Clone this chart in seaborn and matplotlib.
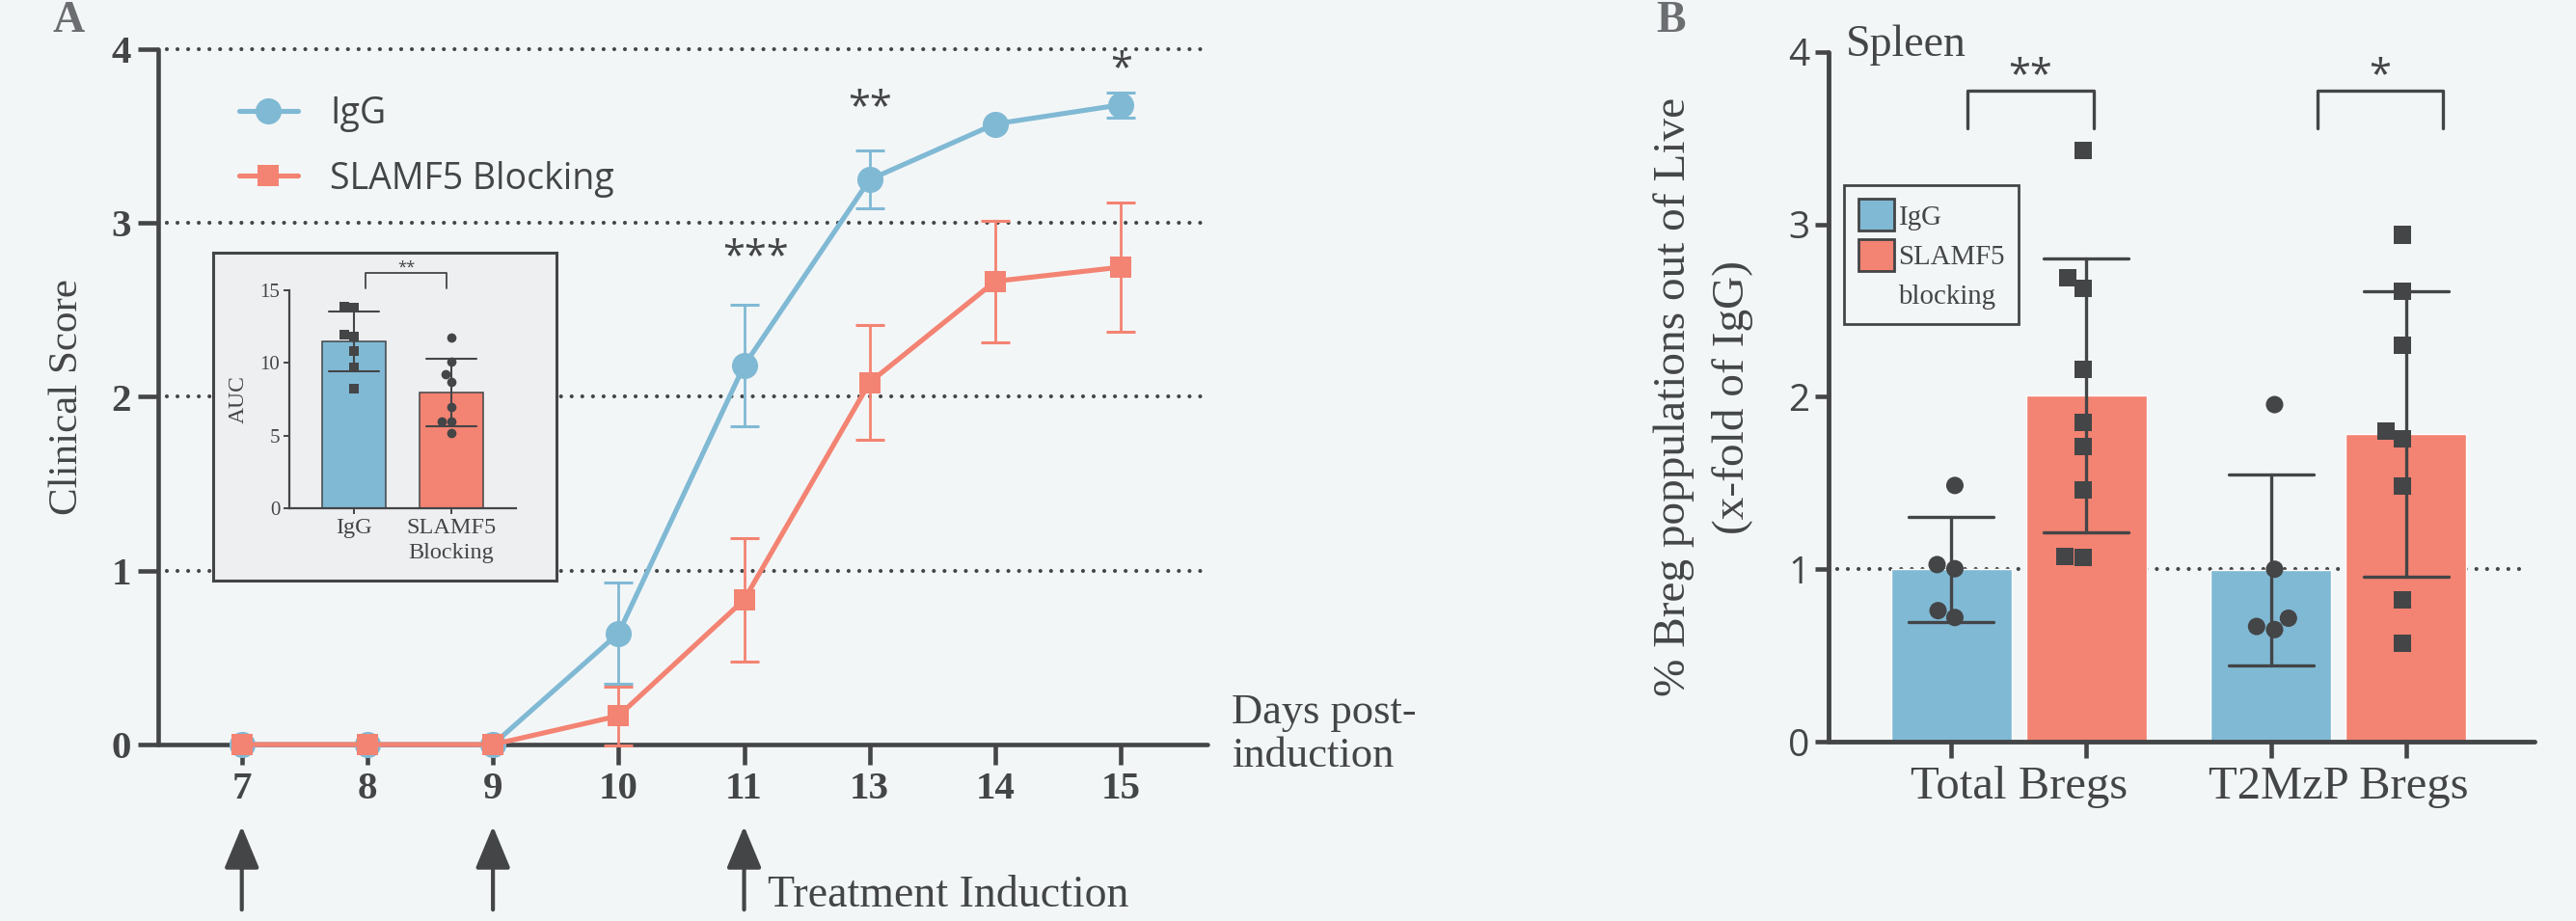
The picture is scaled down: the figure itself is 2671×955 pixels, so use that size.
import numpy as np
import pandas as pd
import matplotlib
matplotlib.use("Agg")
import matplotlib.pyplot as plt
import seaborn as sns
from matplotlib.lines import Line2D
from matplotlib.patches import Patch

# ---------------- data ----------------
days = ["7", "8", "9", "10", "11", "13", "14", "15"]
igg_score = [0, 0, 0, 0.64, 2.18, 3.25, 3.57, 3.68]
igg_sem = [0, 0, 0, 0.29, 0.35, 0.165, 0, 0.072]
slamf5_score = [0, 0, 0, 0.165, 0.832, 2.083, 2.665, 2.746]
slamf5_sem = [0, 0, 0, 0.168, 0.356, 0.332, 0.35, 0.372]
treatment_days = ["7", "9", "11"]
sig_days = ["11", "13", "15"]
sig_marks = ["***", "**", "*"]
sig_y = [2.80, 3.66, 3.88]

groups = ["IgG", "SLAMF5 Blocking"]
auc_igg = [13.85, 13.8, 11.96, 11.81, 10.82, 9.71, 8.25]
auc_slamf5 = [11.74, 10.09, 9.24, 8.71, 6.94, 5.97, 5.97, 5.2]

populations = ["Total Bregs", "T2MzP Bregs"]
b_groups = ["IgG", "SLAMF5 blocking"]
total_igg = [1.486, 1.003, 1.027, 0.72, 0.76]
total_slamf5 = [3.43, 2.69, 2.63, 2.16, 1.85, 1.71, 1.46, 1.07, 1.075]
t2mzp_igg = [1.955, 1.0, 0.716, 0.65, 0.668]
t2mzp_slamf5 = [2.94, 2.61, 2.30, 1.80, 1.757, 1.48, 0.82, 0.57]
b_sig = ["**", "*"]
b_bracket_x = [(-0.16, 0.233), (0.933, 1.327)]

# ---------------- style ----------------
BG = "#f3f6f7"
DARK = "#434547"
BLUE = "#80b9d4"
SALMON = "#f38372"
SERIF = ["Liberation Serif", "DejaVu Serif"]
SANS = ["Open Sans", "DejaVu Sans"]
DOTS = (0, (0.001, 2.65))

sns.set_theme(style="ticks")
plt.rcParams.update({
    "font.family": SERIF,
    "text.color": DARK, "axes.labelcolor": DARK,
    "xtick.color": DARK, "ytick.color": DARK,
    "axes.edgecolor": DARK, "axes.facecolor": BG,
    "figure.facecolor": BG,
})

W, H = 2671, 955
def rect(l, t, r, b):
    return [l / W, 1 - b / H, (r - l) / W, (b - t) / H]

fig = plt.figure(figsize=(W / 100, H / 100), dpi=100)

# ================= Panel A =================
axA = fig.add_axes(rect(164, 51, 1252, 772))
dfA = pd.DataFrame({
    "day": days * 2,
    "score": igg_score + slamf5_score,
    "group": [groups[0]] * len(days) + [groups[1]] * len(days),
})
sns.pointplot(data=dfA, x="day", y="score", hue="group", order=days,
              hue_order=groups, palette=[BLUE, SALMON], markers=["o", "s"],
              linestyles=["-", "-"], errorbar=None, markersize=19.5,
              linewidth=3.7, markeredgewidth=0, legend=False, ax=axA)
for ln in axA.lines:
    ln.set_clip_on(False)
    ln.set_zorder(5)
    if ln.get_marker() == "s":
        ln.set_markersize(15.8)

xpos = np.arange(len(days))
for vals, errs, col in [(igg_score, igg_sem, BLUE), (slamf5_score, slamf5_sem, SALMON)]:
    v = np.asarray(vals, float)
    e = np.asarray(errs, float)
    m = e > 0
    eb = axA.errorbar(xpos[m], v[m], yerr=e[m], fmt="none", ecolor=col,
                      elinewidth=2.0, capsize=10.5, capthick=2.2, zorder=4)
    for art in list(eb.lines[1]) + list(eb.lines[2]):
        art.set_clip_on(False)

for yv in [1, 2, 3, 4]:
    axA.axhline(yv, xmin=0.008, xmax=0.994, color=DARK, lw=3.0,
                linestyle=DOTS, dash_capstyle="round", zorder=1, clip_on=False)

axA.set_xlim(-0.666, 7.69)
axA.set_ylim(0, 4)
axA.set_yticks([0, 1, 2, 3, 4])
sns.despine(ax=axA)
for s in ["left", "bottom"]:
    axA.spines[s].set_linewidth(3.3)
    axA.spines[s].set_capstyle("round")
axA.tick_params(axis="both", length=15, width=3.3, pad=5)
for lab in axA.get_xticklabels() + axA.get_yticklabels():
    lab.set_fontweight("bold")
    lab.set_fontsize(29.5)
axA.set_xlabel("")
axA.set_ylabel("Clinical Score", fontsize=31)
axA.yaxis.label.set_va("center")
axA.yaxis.set_label_coords(-0.0864, 0.5)

# significance
for d, mk, yy in zip(sig_days, sig_marks, sig_y):
    axA.text(days.index(d) + (0.09 if len(mk) == 3 else 0), yy, mk,
             ha="center", va="center", fontsize=30, family=SANS, color=DARK)

# legend
hA = [Line2D([], [], color=BLUE, marker="o", markersize=19.5, lw=3.7, mew=0),
      Line2D([], [], color=SALMON, marker="s", markersize=15.8, lw=3.7, mew=0)]
axA.legend(hA, groups, loc="upper left", bbox_to_anchor=(0.077, 0.933),
           frameon=False, prop={"family": SANS, "size": 27},
           handlelength=1.63, handletextpad=0.88, labelspacing=0.78,
           borderpad=0, borderaxespad=0, labelcolor=DARK)

# treatment arrows
for d in treatment_days:
    axA.annotate("", xy=(days.index(d), -0.47), xytext=(days.index(d), -0.95),
                 arrowprops=dict(arrowstyle="-|>,head_length=1.35,head_width=0.56",
                                 color=DARK, lw=3.0, shrinkA=0, shrinkB=0,
                                 mutation_scale=20),
                 annotation_clip=False)
axA.text(days.index(treatment_days[-1]) + 0.19, -0.93, "Treatment Induction",
         fontsize=33, ha="left", va="baseline", color=DARK, clip_on=False)
axA.text(7.88, 0.06, "Days post-\ninduction", fontsize=32, ha="left",
         va="center", color=DARK, linespacing=1.15, clip_on=False)

# ---------- inset ----------
axBox = fig.add_axes(rect(221, 262, 577, 602))
axBox.set_facecolor("#eeeff1")
axBox.set_xticks([])
axBox.set_yticks([])
for s in axBox.spines.values():
    s.set_linewidth(2.2)
    s.set_color(DARK)

axIn = fig.add_axes(rect(300, 301, 535, 527))
axIn.patch.set_alpha(0)
dfAUC = pd.DataFrame({
    "group": [groups[0]] * len(auc_igg) + [groups[1]] * len(auc_slamf5),
    "auc": auc_igg + auc_slamf5,
})
sns.barplot(data=dfAUC, x="group", y="auc", hue="group", order=groups,
            hue_order=groups, palette=[BLUE, SALMON], saturation=1,
            errorbar="sd", capsize=0.51,
            err_kws={"color": DARK, "linewidth": 1.5},
            width=0.65, edgecolor=DARK, linewidth=1.1, legend=False, ax=axIn)
for grp, mk in zip(groups, ["s", "o"]):
    sns.swarmplot(data=dfAUC[dfAUC.group == grp], x="group", y="auc",
                  order=groups, color=DARK, marker=mk, size=7, linewidth=0,
                  ax=axIn)
axIn.set_xlim(-0.663, 1.663)
axIn.set_ylim(0, 15)
axIn.set_yticks([0, 5, 10, 15])
sns.despine(ax=axIn)
for s in ["left", "bottom"]:
    axIn.spines[s].set_linewidth(1.6)
axIn.tick_params(axis="both", length=4, width=1.4, pad=3)
axIn.tick_params(axis="y", labelsize=15)
axIn.set_xticks(range(len(groups)))
axIn.set_xticklabels([g.replace(" ", "\n") for g in groups], fontsize=17.5,
                     linespacing=1.3)
axIn.set_xlabel("")
axIn.set_ylabel("AUC", fontsize=17)
axIn.yaxis.label.set_va("center")
axIn.yaxis.set_label_coords(-0.2255, 0.5)
axIn.plot([0.119, 0.119, 0.95, 0.95], [15.13, 16.19, 16.19, 15.13],
          color=DARK, lw=1.3, clip_on=False)
axIn.text(0.535, 16.55, "**", ha="center", va="center", fontsize=12,
          family=SANS, color=DARK)

# ================= Panel B =================
axB = fig.add_axes(rect(1896, 54, 2628, 769))
dfB = pd.DataFrame({
    "population": [populations[0]] * (len(total_igg) + len(total_slamf5))
                  + [populations[1]] * (len(t2mzp_igg) + len(t2mzp_slamf5)),
    "group": [b_groups[0]] * len(total_igg) + [b_groups[1]] * len(total_slamf5)
             + [b_groups[0]] * len(t2mzp_igg) + [b_groups[1]] * len(t2mzp_slamf5),
    "value": total_igg + total_slamf5 + t2mzp_igg + t2mzp_slamf5,
})
axB.axhline(1, xmin=0.012, xmax=0.989, color=DARK, lw=3.0,
            linestyle=DOTS, dash_capstyle="round", zorder=0.5)
sns.barplot(data=dfB, x="population", y="value", hue="group",
            order=populations, hue_order=b_groups, palette=[BLUE, SALMON],
            saturation=1, errorbar="sd", capsize=0.53,
            err_kws={"color": DARK, "linewidth": 2.4}, width=0.845, gap=0.108,
            legend=False, ax=axB)
bar_centers = sorted(p.get_x() + p.get_width() / 2 for p in axB.patches)
for grp, mk in zip(b_groups, ["o", "s"]):
    sns.swarmplot(data=dfB[dfB.group == grp], x="population", y="value",
                  hue="group", order=populations, hue_order=b_groups,
                  dodge=True, palette={g: DARK for g in b_groups}, marker=mk,
                  size=13, linewidth=0, legend=False, ax=axB)

axB.set_xlim(-0.595, 1.613)
axB.set_ylim(0, 4)
axB.set_yticks([0, 1, 2, 3, 4])
sns.despine(ax=axB)
for s in ["left", "bottom"]:
    axB.spines[s].set_linewidth(3.5)
    axB.spines[s].set_capstyle("round")
axB.set_xticks(bar_centers)
axB.set_xticklabels([])
axB.set_xticks(range(len(populations)), minor=True)
axB.set_xticklabels(populations, minor=True, fontsize=35)
axB.tick_params(axis="x", which="major", length=12, width=3.3)
axB.tick_params(axis="x", which="minor", length=0, pad=18)
axB.tick_params(axis="y", length=10, width=3.3, pad=4)
for lab in axB.get_yticklabels():
    lab.set_family(SANS)
    lab.set_fontsize(28)
axB.set_xlabel("")
axB.set_ylabel("% Breg poppulations out of Live\n(x-fold of IgG)",
               fontsize=34, linespacing=1.55)
axB.yaxis.label.set_va("center")
axB.yaxis.set_label_coords(-0.178, 0.5)

for (x0, x1), mk in zip(b_bracket_x, b_sig):
    axB.plot([x0, x0, x1, x1], [3.56, 3.776, 3.776, 3.56], color=DARK,
             lw=2.4, clip_on=False)
    axB.text((x0 + x1) / 2, 3.86, mk, ha="center", va="center",
             fontsize=30, family=SANS, color=DARK)

axB.text(0.025, 0.994, "Spleen", transform=axB.transAxes, ha="left",
         va="baseline", fontsize=33, color=DARK)

hB = [Patch(facecolor=BLUE, edgecolor=DARK, lw=2),
      Patch(facecolor=SALMON, edgecolor=DARK, lw=2),
      Patch(facecolor="none", edgecolor="none")]
legB = axB.legend(hB, [b_groups[0]] + b_groups[1].split(" "), loc="upper left",
                  bbox_to_anchor=(0.022, 0.807), frameon=True, fancybox=False,
                  edgecolor=DARK, facecolor=BG, framealpha=1,
                  prop={"family": SERIF, "size": 20.8}, handlelength=1.28,
                  handleheight=1.38, handletextpad=0.17, labelspacing=0.28,
                  borderpad=0.5, borderaxespad=0, labelcolor=DARK)
legB.get_frame().set_linewidth(2.0)

# panel letters
fig.text(55 / W, 1 - 33 / H, "A", fontsize=33, fontweight="bold",
         color="#6b6d70", ha="left", va="baseline")
fig.text(1717 / W, 1 - 33 / H, "B", fontsize=33, fontweight="bold",
         color="#6b6d70", ha="left", va="baseline")

fig.savefig("out.png", dpi=100, facecolor=BG)
